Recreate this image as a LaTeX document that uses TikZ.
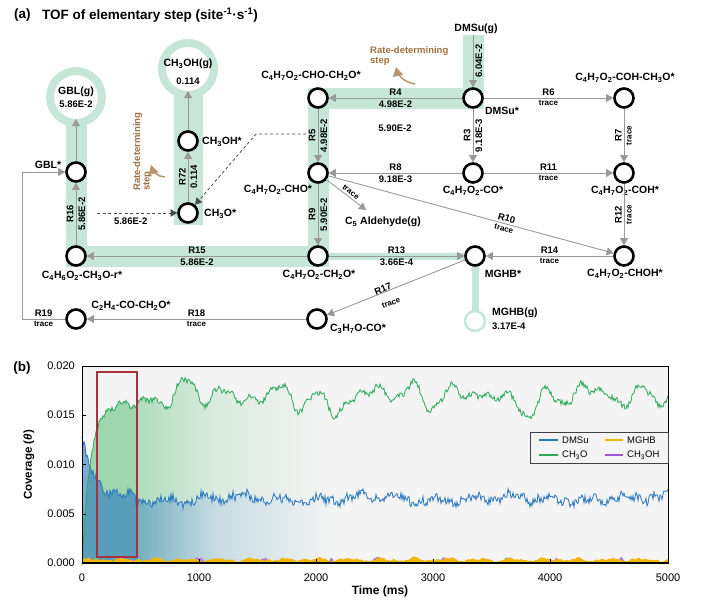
\documentclass[tikz,border=0pt]{standalone}
\usepackage{fontspec}
\setmainfont{Liberation Sans}
\usetikzlibrary{arrows}
\definecolor{mint}{HTML}{C6E6D8}
\definecolor{arrgray}{HTML}{999999}
\definecolor{rdsbrown}{HTML}{A0703F}
\definecolor{cvblue}{HTML}{2A78C2}
\definecolor{cvgreen}{HTML}{2EA85A}
\definecolor{cvyellow}{HTML}{F2B705}
\definecolor{cvpurple}{HTML}{9A5BD6}
\definecolor{boxred}{HTML}{A8303F}
\definecolor{plotbg}{HTML}{F4F4F4}
\definecolor{greenfill}{HTML}{9ED6AE}
\definecolor{tealfade}{HTML}{73AFBF}
\newcommand{\sbs}[1]{\textsubscript{#1}}
\tikzset{
  spec/.style={draw,circle,line width=2.6pt,minimum size=19pt,inner sep=0pt,fill=white},
  gasring/.style={draw=mint,circle,line width=8pt,minimum size=52pt,inner sep=0pt,outer sep=-4pt,fill=white},
  band/.style={draw=mint,line width=21pt},
  txt/.style={font=\bfseries\fontsize{10.5}{12}\selectfont,inner sep=1pt},
  rlab/.style={font=\bfseries\fontsize{9.5}{11}\selectfont,inner sep=2pt},
  rval/.style={font=\bfseries\fontsize{9.5}{11}\selectfont,inner sep=2pt},
  trc/.style={font=\bfseries\fontsize{8}{9}\selectfont,inner sep=2pt},
  ttl/.style={font=\bfseries\fontsize{13.5}{15}\selectfont,inner sep=0pt},
  rx/.style={draw=arrgray,line width=0.9pt,->},
  dsh/.style={draw=black!70,line width=0.8pt,dash pattern=on 3pt off 2.5pt,->},
  rds/.style={font=\bfseries\fontsize{9.5}{9.5}\selectfont,text=rdsbrown,align=left,inner sep=0pt},
  rdsarr/.style={draw=rdsbrown!75,line width=1.5pt,->},
  tick/.style={font=\fontsize{11}{12}\selectfont,inner sep=1pt},
  lgd/.style={font=\fontsize{9.5}{10}\selectfont,inner sep=1pt,anchor=west},
  declare function={
    tx(\t)=82+1.172*\t;
    gcv(\t)=166*(1-exp(-min(\t,80)/8))+min(\t,50)/50*(7*sin(9.3*\t)+6*sin(12.9*\t+30)+5*sin(4.3*\t+70)+4*sin(2.1*\t+200)+3*sin(23*\t+15));
    bcv(\t)=64+56*exp(-min(\t,90)/11)+3*sin(11*\t+20)+2*sin(29*\t)+2*sin(3.1*\t+40);
  }
}

\begin{document}
\begin{tikzpicture}[x=1pt,y=-1pt,>=triangle 60]
\useasboundingbox (0,0) rectangle (703,602);

\node[ttl,anchor=west] (pa) at (14,15) {(a)};
\node[ttl,anchor=west] (ttla) at (42,15) {TOF of elementary step (site\textsuperscript{-1}·s\textsuperscript{-1})};

\draw[band] (473,35) -- (473,98) -- (318,98) -- (318,256) -- (76,256) -- (76,105);
\draw[band,line width=29pt] (188,225) -- (188,80);
\draw[mint,line width=7pt] (318,256) -- (475,256) -- (475,316);

\node[gasring] (gblg) at (76,97) {};
\node[gasring] (mehg) at (188,69) {};
\node[gasring,line width=2.5pt,minimum size=20pt,outer sep=0pt] (mghbg) at (475,321) {};

\node[spec] (gbls) at (76,172) {};
\node[spec] (rsp) at (76,256) {};
\node[spec] (chthoh) at (188,141) {};
\node[spec] (chtho) at (188,213) {};
\node[spec] (chocho) at (318,98) {};
\node[spec] (dmsus) at (473,98) {};
\node[spec] (cohcho) at (624,98) {};
\node[spec] (cho) at (318,173) {};
\node[spec] (co) at (473,173) {};
\node[spec] (coh) at (624,173) {};
\node[spec] (chto) at (318,256) {};
\node[spec] (mghb) at (475,256) {};
\node[spec] (choh) at (624,256) {};
\node[spec] (ctco) at (76,319) {};
\node[spec] (cthco) at (317,319) {};

\node[txt] (dmsug) at (476,29) {DMSu(g)};
\node[txt] (tgblg) at (76,92) {GBL(g)};
\node[rval] (vgblg) at (76,104) {5.86E-2};
\node[txt] (tmehg) at (188,64) {CH\sbs{3}OH(g)};
\node[rval] (vmehg) at (188,81) {0.114};
\node[txt] (tgbls) at (48,165) {GBL*};
\node[txt] (trsp) at (82,276) {C\sbs{4}H\sbs{6}O\sbs{2}-CH\sbs{3}O-r*};
\node[txt,anchor=west] (tchthoh) at (201,142) {CH\sbs{3}OH*};
\node[txt,anchor=west] (tchtho) at (203,214) {CH\sbs{3}O*};
\node[txt] (tchocho) at (311,76) {C\sbs{4}H\sbs{7}O\sbs{2}-CHO-CH\sbs{2}O*};
\node[txt] (tdmsus) at (502,111) {DMSu*};
\node[txt] (tcohcho) at (625,78) {C\sbs{4}H\sbs{7}O\sbs{2}-COH-CH\sbs{3}O*};
\node[txt] (tcho) at (278,190) {C\sbs{4}H\sbs{7}O\sbs{2}-CHO*};
\node[txt] (tco) at (473,191) {C\sbs{4}H\sbs{7}O\sbs{2}-CO*};
\node[txt] (tcoh) at (625,191) {C\sbs{4}H\sbs{7}O\sbs{2}-COH*};
\node[txt] (tc5) at (383,222) {C\sbs{5} Aldehyde(g)};
\node[txt] (tchto) at (319,275) {C\sbs{4}H\sbs{7}O\sbs{2}-CH\sbs{2}O*};
\node[txt] (tmghb) at (503,274) {MGHB*};
\node[txt] (tchoh) at (625,274) {C\sbs{4}H\sbs{7}O\sbs{2}-CHOH*};
\node[txt,anchor=west] (tmghbg) at (491,313) {MGHB(g)};
\node[rval,anchor=west,inner sep=1pt] (vmghbg) at (491,326) {3.17E-4};
\node[txt] (tctco) at (131,306) {C\sbs{2}H\sbs{4}-CO-CH\sbs{2}O*};
\node[txt] (tcthco) at (358,329) {C\sbs{3}H\sbs{7}O-CO*};
\coordinate (c5end) at (366,210);

\draw[rx] (dmsug.south -| dmsus) -- (dmsus) node[midway,rotate=90,below,rval]{6.04E-2};
\draw[rx] (dmsus) -- (chocho) node[midway,above,rlab]{R4} node[midway,below,rval]{4.98E-2};
\draw[rx] (dmsus) -- (cohcho) node[midway,above,rlab]{R6} node[midway,below,trc]{trace};
\draw[rx] (dmsus) -- (co) node[midway,rotate=90,above,rlab]{R3} node[midway,rotate=90,below,rval]{9.18E-3};
\draw[rx] (cohcho) -- (coh) node[midway,rotate=90,above,rlab]{R7} node[midway,rotate=90,below,trc]{trace};
\draw[rx] (chocho) -- (cho) node[midway,rotate=90,above,rlab]{R5} node[midway,rotate=90,below,rval]{4.98E-2};
\draw[rx] (co) -- (cho) node[midway,above,rlab]{R8} node[midway,below,rval]{9.18E-3};
\draw[rx] (co) -- (coh) node[midway,above,rlab]{R11} node[midway,below,trc]{trace};
\draw[rx] (coh) -- (choh) node[midway,rotate=90,above,rlab]{R12} node[midway,rotate=90,below,trc]{trace};
\draw[rx] (cho) -- (choh) node[pos=0.62,sloped,above,rlab]{R10} node[pos=0.62,sloped,below,trc]{trace};
\draw[rx] (cho) -- (c5end);
\node[trc,rotate=-38,inner sep=0.5pt] (tcf) at (351,192) {trace};
\draw[rx] (cho) -- (chto) node[midway,rotate=90,above,rlab]{R9} node[midway,rotate=90,below,rval]{5.90E-2};
\draw[rx] (chto) -- (rsp) node[midway,above,rlab]{R15} node[midway,below,rval]{5.86E-2};
\draw[rx] (chto) -- (mghb) node[midway,above,rlab]{R13} node[midway,below,rval]{3.66E-4};
\draw[rx] (choh) -- (mghb) node[midway,above,rlab]{R14} node[midway,below,trc]{trace};
\draw[rx] (mghb) -- (cthco);
\node[rlab,rotate=21.7,inner sep=0.5pt] (lrs) at (383,289) {R17};
\node[trc,rotate=21.7,inner sep=0.5pt] (trs) at (391,303) {trace};
\draw[rx] (cthco) -- (ctco) node[midway,above,rlab]{R18} node[midway,below,trc]{trace};
\draw[rx] (ctco) -- ++(-54,0) node[midway,above,rlab]{R19} node[midway,below,trc]{trace} |- (gbls);
\draw[rx] (rsp) -- (gbls) node[midway,rotate=90,above,rlab]{R16} node[midway,rotate=90,below,rval]{5.86E-2};
\draw[rx] (gbls) -- (gblg);
\draw[rx] (chtho) -- (chthoh) node[midway,rotate=90,above,rlab]{R72} node[midway,rotate=90,below,rval]{0.114};
\draw[rx] (chthoh) -- (mehg);

\coordinate (dsa) at (97,213);
\coordinate (dsb) at (306,134);
\coordinate (dsc) at (256,134);
\draw[dsh] (dsa) -- (chtho) node[pos=0.42,below=2pt,rval]{5.86E-2};
\draw[dsh] (dsb) -- (dsc) -- (chtho);
\node[rval] (vdsb) at (395,128) {5.90E-2};

\node[rds,anchor=west] (rdsa) at (370,56) {Rate-determining\\step};
\draw[rdsarr] (415,84) .. controls (404,82) and (398,76) .. (396,67);
\node[rds,rotate=90,anchor=west] (rdsb) at (142.5,191) {Rate-determining\\step};
\draw[rdsarr] (165,177) .. controls (158,177) and (153,172) .. (151,165);

% (b) coverage
\node[ttl] (pb) at (22,368) {(b)};
\fill[plotbg] (82,366) rectangle (668,563);
\begin{scope}
\pgfmathsetseed{21}
\clip (82,563) -- plot[domain=0:500,samples=587] ({tx(\x)},{563-gcv(\x)-3*rand}) -- (668,563) -- cycle;
\fill[greenfill] (82,366) rectangle (137,563);
\shade[left color=greenfill!80!plotbg,right color=greenfill!30!plotbg] (137,366) rectangle (215,563);
\shade[left color=greenfill!30!plotbg,right color=plotbg] (215,366) rectangle (335,563);
\end{scope}
\begin{scope}
\pgfmathsetseed{35}
\clip (82,563) -- plot[domain=0:500,samples=587] ({tx(\x)},{563-bcv(\x)-4.5*rand}) -- (668,563) -- cycle;
\fill[cvblue,fill opacity=0.6] (82,366) rectangle (137,563);
\shade[left color=tealfade,right color=tealfade!35!plotbg] (137,366) rectangle (215,563);
\shade[left color=tealfade!35!plotbg,right color=plotbg] (215,366) rectangle (335,563);
\end{scope}
\pgfmathsetseed{44}
\fill[cvpurple!80] (82,563) -- plot[domain=0:500,samples=300] ({tx(\x)},{563-max(0,4*sin(7*\x+100)+3*sin(19*\x)+2*rand-1.5)}) -- (668,563) -- cycle;
\pgfmathsetseed{52}
\fill[cvyellow] (82,563) -- plot[domain=0:500,samples=300] ({tx(\x)},{563-max(0.5,3.5+1.2*sin(13*\x)+0.8*sin(23*\x+50)+rand)}) -- (668,563) -- cycle;
\pgfmathsetseed{21}
\draw[cvgreen,line width=0.8pt] plot[domain=0:500,samples=587] ({tx(\x)},{563-gcv(\x)-3*rand});
\pgfmathsetseed{35}
\draw[cvblue,line width=0.8pt] plot[domain=0:500,samples=587] ({tx(\x)},{563-bcv(\x)-4.5*rand});

\draw[boxred,line width=1.3pt] (97,372) rectangle (137,557);
\draw[line width=0.8pt] (82,366) rectangle (668,563);
\draw[line width=1.4pt] (82,563) -- (668,563);
\draw[line width=1pt] (82,366) -- (82,563);
\draw[line width=0.8pt] (199,563) -- (199,559);
\draw[line width=0.8pt] (316,563) -- (316,559);
\draw[line width=0.8pt] (433,563) -- (433,559);
\draw[line width=0.8pt] (550,563) -- (550,559);
\draw[line width=0.8pt] (82,415) -- (86,415);
\draw[line width=0.8pt] (82,464.5) -- (86,464.5);
\draw[line width=0.8pt] (82,514) -- (86,514);

\node[tick] (xt0) at (82,578) {0};
\node[tick] (xt1) at (199,578) {1000};
\node[tick] (xt2) at (316,578) {2000};
\node[tick] (xt3) at (433,578) {3000};
\node[tick] (xt4) at (550,578) {4000};
\node[tick] (xt5) at (668,578) {5000};
\node[tick,anchor=east] (yt0) at (76,563) {0.000};
\node[tick,anchor=east] (yt1) at (76,514) {0.005};
\node[tick,anchor=east] (yt2) at (76,464.5) {0.010};
\node[tick,anchor=east] (yt3) at (76,415) {0.015};
\node[tick,anchor=east] (yt4) at (76,366) {0.020};
\node[font=\bfseries\fontsize{12}{13}\selectfont] (xlab) at (380,591) {Time (ms)};
\node[rotate=90,font=\bfseries\fontsize{11.5}{13}\selectfont] (ylab) at (29,465) {Coverage (\textit{θ})};

\draw[draw=black!75,fill=plotbg,line width=0.6pt] (530,432) rectangle (668,463);
\draw[cvblue,line width=1.1pt] (539,440) -- (558,440);
\node[lgd] (ldmsu) at (561,440) {DMSu};
\draw[cvyellow,line width=1.1pt] (605,440) -- (623,440);
\node[lgd] (lmghb) at (626,440) {MGHB};
\draw[cvgreen,line width=1.1pt] (539,455) -- (558,455);
\node[lgd] (lcho) at (561,455) {CH\sbs{3}O};
\draw[cvpurple,line width=1.1pt] (605,455) -- (623,455);
\node[lgd] (lchoh) at (626,455) {CH\sbs{3}OH};
\end{tikzpicture}
\end{document}
